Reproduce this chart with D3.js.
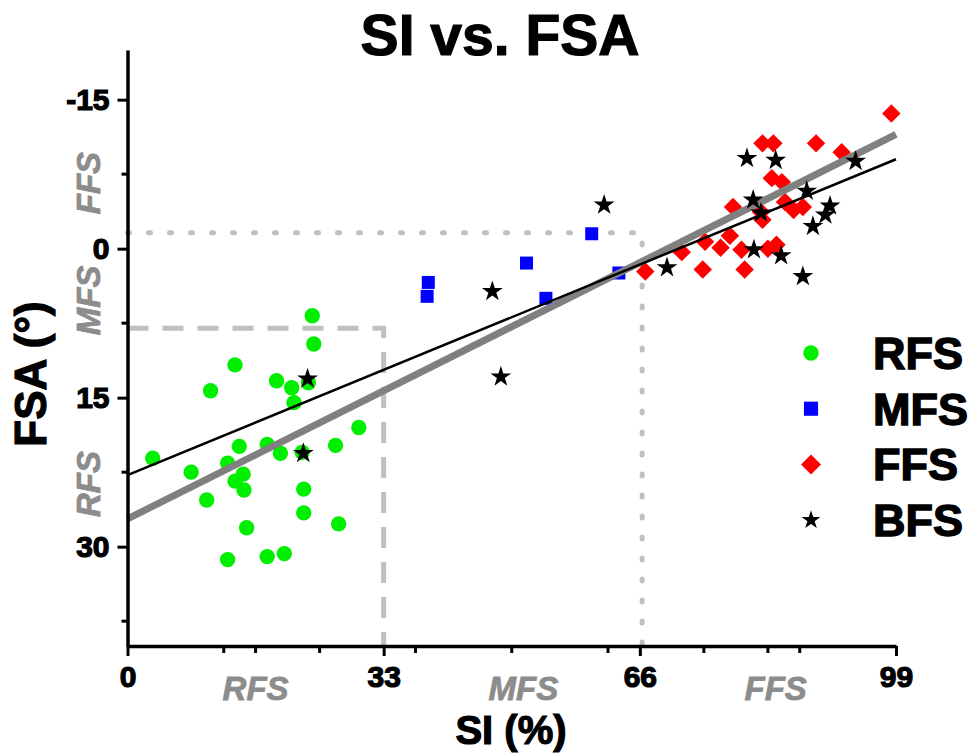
<!DOCTYPE html>
<html>
<head>
<meta charset="utf-8">
<script src="https://cdn.jsdelivr.net/npm/d3@7"></script>
<style>
  body { margin: 0; background: #fff; }
  text { font-family: "Liberation Sans", Arial, sans-serif; font-weight: bold; }
</style>
</head>
<body>
<div id="chart"></div>
<script>
// values: [SI %, FSA deg]
var rfs = [[23.8,6.75],[24.0,9.6],[13.85,11.7],[10.7,14.3],[19.2,13.3],[21.15,14.0],[21.45,15.5],
  [23.3,13.5],[29.8,18.0],[14.4,19.9],[18.0,19.7],[19.7,20.6],[26.8,19.8],[22.5,20.5],[3.25,21.1],
  [8.2,22.5],[12.9,21.6],[14.9,22.7],[13.85,23.4],[15.0,24.3],[10.2,25.3],[22.7,24.2],[22.7,26.6],
  [27.2,27.7],[15.35,28.1],[12.9,31.3],[18.0,31.0],[20.2,30.7]];
var mfs = [[38.75,3.4],[38.6,4.8],[51.4,1.45],[53.9,5.0],[59.8,-1.5],[63.3,2.45]];
var ffs = [[98.4,-13.6],[81.8,-10.6],[83.2,-10.6],[88.7,-10.6],[92.0,-9.7],[83.0,-7.1],[84.3,-6.7],
  [78.0,-4.2],[84.7,-4.7],[85.8,-3.9],[87.0,-4.2],[81.6,-3.7],[81.8,-2.9],[77.6,-1.3],[74.4,-0.7],
  [76.4,-0.1],[71.4,0.35],[79.1,0.1],[82.5,0],[83.6,-0.4],[66.7,2.3],[74.1,2.1],[79.5,2.1]];
var bfs = [[23.2,13.1],[22.65,20.6],[47.0,4.3],[48.1,12.9],[61.4,-4.4],[69.5,1.9],[79.8,-9.1],
  [83.5,-8.9],[93.8,-8.8],[87.5,-5.8],[80.6,-4.9],[81.6,-3.6],[90.5,-4.3],[89.9,-3.4],[88.3,-2.25],
  [80.7,0.1],[84.2,0.7],[87.0,2.8]];

// fitted lines (end points)
var fitBlack = [[0,22.8],[99,-9.0]];
var fitGray = [[0,27.2],[99,-11.5]];

// threshold guides
var dashedGuide = [[0,8],[33,8],[33,40]];
var dottedGuide = [[0,-1.6],[66.3,-1.6],[66.3,40]];

var xMajor = [0,33,66,99];
var xMinor = [12.4,16.5,24.75,37.1,49.5,61.9,74.25,82.5,86.6];
var yMajor = [-15,0,15,30];
var yMinor = [-7.5,7.5,22.5,37.5];

var xZones = [["RFS",16.5],["MFS",51],["FFS",83.5]];
var yZones = [["FFS",-6.6],["MFS",5.2],["RFS",23.7]];

var legendItems = ["RFS","MFS","FFS","BFS"];

var w = 968, h = 754;
var svg = d3.select("#chart").append("svg").attr("width", w).attr("height", h);

var x = d3.scaleLinear().domain([0,99]).range([127.5,896]);
var y = d3.scaleLinear().domain([-20,40]).range([50,646]);

var line = d3.line().x(function(d){ return x(d[0]); }).y(function(d){ return y(d[1]); });

// guides
svg.append("path").attr("d", line(dashedGuide))
  .attr("fill","none").attr("stroke","#c0c0c0").attr("stroke-width",5)
  .attr("stroke-dasharray","21,14");
svg.append("path").attr("d", line(dottedGuide))
  .attr("fill","none").attr("stroke","#c0c0c0").attr("stroke-width",5)
  .attr("stroke-linecap","round").attr("stroke-dasharray","2,19");

// points
var circ = d3.symbol().type(d3.symbolCircle).size(185);
var sq = d3.symbol().type(d3.symbolSquare).size(169);
var dia = d3.symbol().type(d3.symbolSquare).size(170);
var star = d3.symbol().type(d3.symbolStar).size(135);

function plot(data, sym, color, rot) {
  svg.append("g").selectAll("path").data(data).enter().append("path")
    .attr("d", sym)
    .attr("transform", function(d){ return "translate(" + x(d[0]) + "," + y(d[1]) + ")" + (rot ? " rotate(45)" : ""); })
    .attr("fill", color);
}
plot(rfs, circ, "#00ee00");
plot(mfs, sq, "#0000ff");
plot(ffs, dia, "#ff0000", true);

// fits
svg.append("path").attr("d", line(fitGray)).attr("fill","none")
  .attr("stroke","#808080").attr("stroke-width",7);
svg.append("path").attr("d", line(fitBlack)).attr("fill","none")
  .attr("stroke","#000").attr("stroke-width",2.5);

plot(bfs, star, "#000");

// axes
var yAxis = svg.append("g").attr("transform","translate(" + x(0) + ",0)")
  .call(d3.axisLeft(y).tickValues(yMajor).tickSize(10).tickSizeOuter(0).tickPadding(8)
    .tickFormat(function(d){ return d < 0 ? "-" + Math.abs(d) : d; }));
yAxis.append("g").selectAll("line").data(yMinor).enter().append("line")
  .attr("x1",0).attr("x2",-6).attr("y1",function(d){ return y(d); }).attr("y2",function(d){ return y(d); })
  .attr("stroke","#000").attr("stroke-width",3);

var xAxis = svg.append("g").attr("transform","translate(0," + y(40) + ")")
  .call(d3.axisBottom(x).tickValues(xMajor).tickSize(10).tickSizeOuter(0).tickPadding(10));
xAxis.append("g").selectAll("line").data(xMinor).enter().append("line")
  .attr("y1",0).attr("y2",7).attr("x1",function(d){ return x(d); }).attr("x2",function(d){ return x(d); })
  .attr("stroke","#000").attr("stroke-width",3);

svg.selectAll(".domain").attr("stroke","#000").attr("stroke-width",3.5);
svg.selectAll(".tick line").attr("stroke","#000").attr("stroke-width",3);
svg.selectAll(".tick text").attr("font-size",30).attr("fill","#000")
  .attr("font-family","'Liberation Sans', Arial, sans-serif").attr("font-weight","bold")
  .attr("stroke","#000").attr("stroke-width",1.2);

// zone labels
svg.append("g").selectAll("text").data(xZones).enter().append("text")
  .attr("x", function(d){ return x(d[1]); }).attr("y", 700)
  .attr("text-anchor","middle").attr("font-size",33).attr("font-style","italic")
  .attr("fill","#8c8c8c").attr("stroke","#8c8c8c").attr("stroke-width",0.8)
  .text(function(d){ return d[0]; });
svg.append("g").selectAll("text").data(yZones).enter().append("text")
  .attr("transform", function(d){ return "translate(100," + y(d[1]) + ") rotate(-90)"; })
  .attr("text-anchor","middle").attr("font-size",33).attr("font-style","italic")
  .attr("fill","#8c8c8c").attr("stroke","#8c8c8c").attr("stroke-width",0.8)
  .text(function(d){ return d[0]; });

// titles
svg.append("text").attr("x",500).attr("y",55).attr("text-anchor","middle")
  .attr("font-size",57).attr("stroke","#000").attr("stroke-width",1.2).text("SI vs. FSA");
svg.append("text").attr("x",511).attr("y",744).attr("text-anchor","middle")
  .attr("font-size",40).attr("stroke","#000").attr("stroke-width",1.2).text("SI (%)");
svg.append("text").attr("transform","translate(46,374) rotate(-90)").attr("text-anchor","middle")
  .attr("font-size",44).attr("stroke","#000").attr("stroke-width",1.2).text("FSA (°)");

// legend
var legendSyms = [[circ,"#00ee00",false],[d3.symbol().type(d3.symbolSquare).size(200),"#0000ff",false],
  [d3.symbol().type(d3.symbolSquare).size(200),"#ff0000",true],[d3.symbol().type(d3.symbolStar).size(110),"#000",false]];
var leg = svg.append("g").selectAll("g").data(legendItems).enter().append("g")
  .attr("transform", function(d,i){ return "translate(811," + (353 + i*55.7) + ")"; });
leg.append("path").attr("d", function(d,i){ return legendSyms[i][0](); })
  .attr("fill", function(d,i){ return legendSyms[i][1]; })
  .attr("transform", function(d,i){ return legendSyms[i][2] ? "rotate(45)" : null; });
leg.append("text").attr("x",62).attr("y",16).attr("font-size",45)
  .attr("stroke","#000").attr("stroke-width",1.4).text(function(d){ return d; });
</script>
</body>
</html>
